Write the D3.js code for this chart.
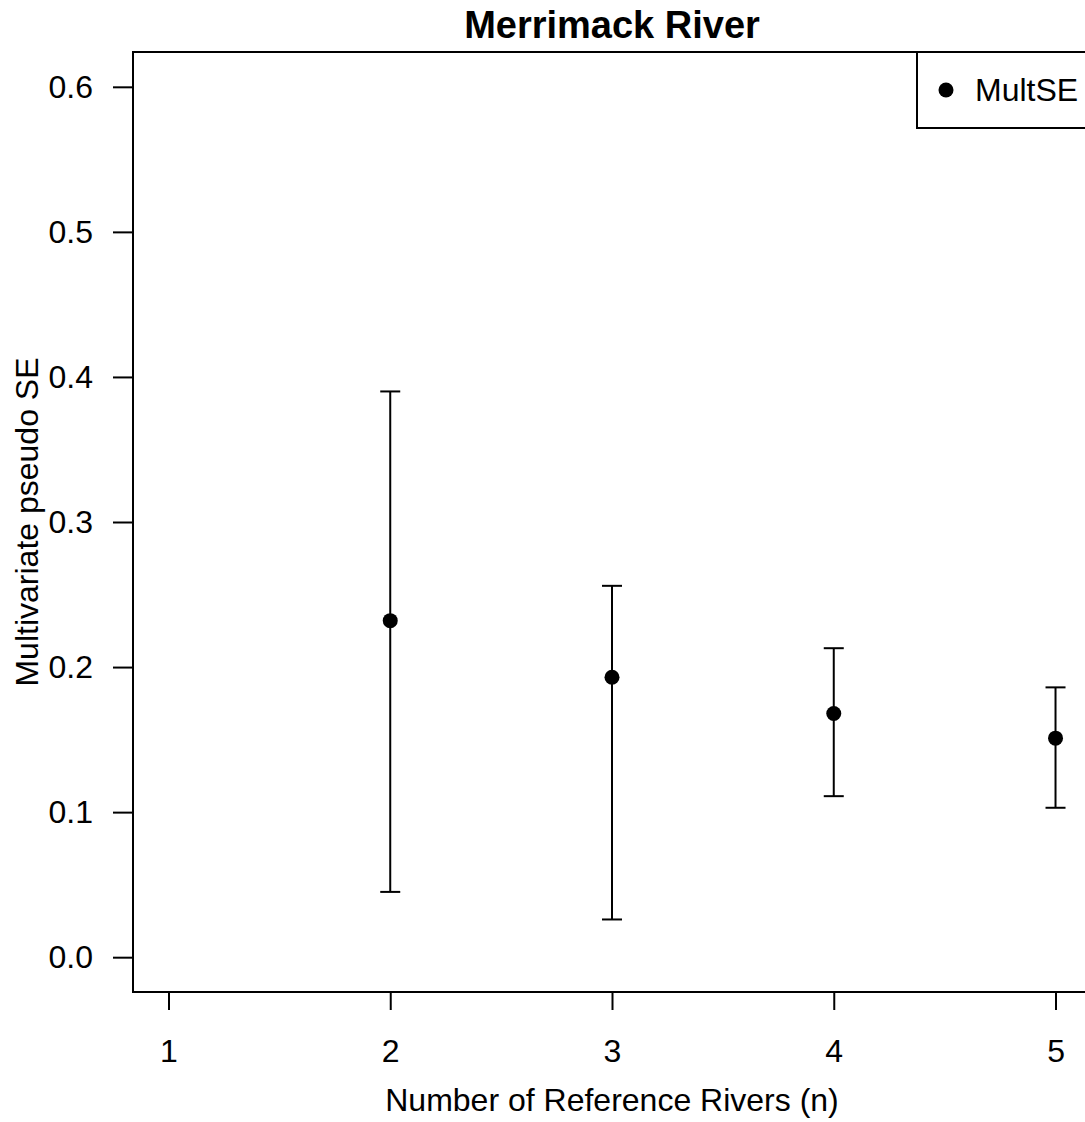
<!DOCTYPE html>
<html>
<head>
<meta charset="utf-8">
<title>Merrimack River</title>
<script src="https://cdn.jsdelivr.net/npm/d3@7"></script>
<style>
  html, body { margin: 0; padding: 0; background: #fff; }
  svg text { font-family: "Liberation Sans", Arial, sans-serif; fill: #000; }
</style>
</head>
<body>
<div id="chart"></div>
<script>
// values
var nRivers = [2, 3, 4, 5];
var multSE  = [0.232, 0.193, 0.168, 0.151];
var upperCI = [0.390, 0.256, 0.213, 0.186];
var lowerCI = [0.045, 0.026, 0.111, 0.103];
var xTicks  = [1, 2, 3, 4, 5];
var yTicks  = [0, 0.1, 0.2, 0.3, 0.4, 0.5, 0.6];

var W = 1085, H = 1122;
var box = { left: 133, right: 1091, top: 52, bottom: 992 };
var fs = 32;

var svg = d3.select("#chart").append("svg")
  .attr("width", W).attr("height", H);

// R-style 4% padded ranges
var x = d3.scaleLinear().domain([0.84, 5.16]).range([box.left, box.right]);
var y = d3.scaleLinear().domain([-0.024, 0.624]).range([box.bottom, box.top]);

var pts = nRivers.map(function (n, i) {
  return { n: n, m: multSE[i], hi: upperCI[i], lo: lowerCI[i] };
});

// axes (ticks outward, no domain line; the box draws the frame)
var yAxis = d3.axisLeft(y).tickValues(yTicks).tickSize(20).tickPadding(20)
  .tickFormat(d3.format(".1f"));
svg.append("g").attr("transform", "translate(" + box.left + ",0)").call(yAxis)
  .call(function (g) {
    g.select(".domain").remove();
    g.selectAll("line").attr("stroke-width", 2);
    g.selectAll("text").style("font-size", fs + "px");
  });

var xAxis = d3.axisBottom(x).tickValues(xTicks).tickSize(18).tickPadding(29)
  .tickFormat(d3.format("d"));
svg.append("g").attr("transform", "translate(0," + box.bottom + ")").call(xAxis)
  .call(function (g) {
    g.select(".domain").remove();
    g.selectAll("line").attr("stroke-width", 2);
    g.selectAll("text").style("font-size", fs + "px");
  });

// error bars
var cap = 10;
var bars = svg.append("g").attr("stroke", "#000").attr("stroke-width", 2).attr("fill", "none");
pts.forEach(function (d) {
  bars.append("line").attr("x1", x(d.n)).attr("x2", x(d.n)).attr("y1", y(d.lo)).attr("y2", y(d.hi));
  bars.append("line").attr("x1", x(d.n) - cap).attr("x2", x(d.n) + cap).attr("y1", y(d.hi)).attr("y2", y(d.hi));
  bars.append("line").attr("x1", x(d.n) - cap).attr("x2", x(d.n) + cap).attr("y1", y(d.lo)).attr("y2", y(d.lo));
});

svg.append("g").selectAll("circle").data(pts).enter().append("circle")
  .attr("cx", function (d) { return x(d.n); })
  .attr("cy", function (d) { return y(d.m); })
  .attr("r", 7.5)
  .attr("fill", "#000");

// frame
svg.append("rect")
  .attr("x", box.left).attr("y", box.top)
  .attr("width", box.right - box.left).attr("height", box.bottom - box.top)
  .attr("fill", "none").attr("stroke", "#000").attr("stroke-width", 2);

// legend
var leg = svg.append("g");
leg.append("rect").attr("x", 917).attr("y", box.top).attr("width", 200).attr("height", 76)
  .attr("fill", "#fff").attr("stroke", "#000").attr("stroke-width", 2);
leg.append("circle").attr("cx", 946).attr("cy", 90).attr("r", 7.5).attr("fill", "#000");
leg.append("text").attr("x", 975).attr("y", 90).attr("dy", "0.35em")
  .style("font-size", fs + "px").text("MultSE");

// titles
svg.append("text").attr("x", (box.left + box.right) / 2).attr("y", 38)
  .attr("text-anchor", "middle").style("font-size", "38px").style("font-weight", "bold")
  .text("Merrimack River");

svg.append("text").attr("x", (box.left + box.right) / 2).attr("y", 1111)
  .attr("text-anchor", "middle").style("font-size", fs + "px")
  .text("Number of Reference Rivers (n)");

svg.append("text")
  .attr("transform", "translate(38," + ((box.top + box.bottom) / 2) + ") rotate(-90)")
  .attr("text-anchor", "middle").style("font-size", fs + "px")
  .text("Multivariate pseudo SE");
</script>
</body>
</html>
